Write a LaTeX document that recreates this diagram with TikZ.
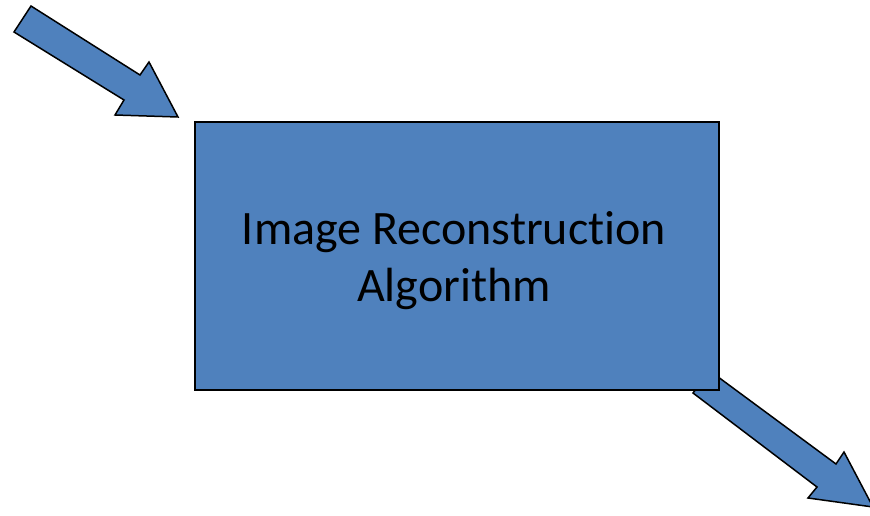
\documentclass[tikz,border=0pt]{standalone}
\usepackage{fontspec}
\setmainfont{Carlito}[Ligatures=NoCommon]
\definecolor{officeblue}{HTML}{4F81BD}
\begin{document}
\begin{tikzpicture}[x=1pt,y=-1pt,
  blockarrow/.style={fill=officeblue,draw=black,line width=1.5pt,line join=miter},
  mainbox/.style={fill=officeblue,draw=black,line width=1.5pt,minimum width=524pt,minimum height=268pt,inner sep=0pt},
  boxtext/.style={inner sep=0pt,align=center,font=\fontsize{48}{57}\selectfont}]
\useasboundingbox (0,0) rectangle (870,516);
\begin{scope}
\clip (0,0) rectangle (870,516);
% lower arrow (behind box)
\draw[blockarrow] (710,371) -- (836,464) -- (844,452) -- (873,507) -- (808,498) -- (817,487) -- (693,393) -- cycle;
\end{scope}
\node[mainbox] (algo) at (457,256) {};
\node[boxtext] (algotext) at (454,261) {Image Reconstruction\\Algorithm};
% upper arrow
\draw[blockarrow] (31,6) -- (140,75) -- (149,62) -- (178,117) -- (115,115) -- (124,100) -- (14,32) -- cycle;
\end{tikzpicture}
\end{document}
